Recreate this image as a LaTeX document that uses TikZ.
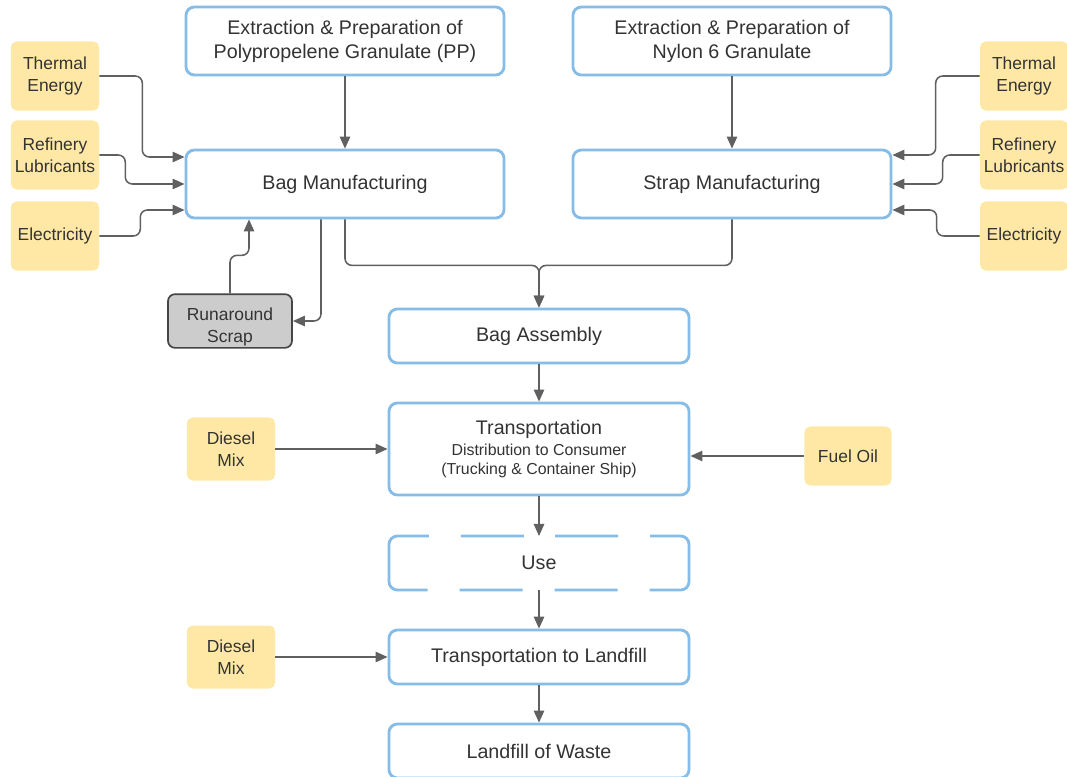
\documentclass[tikz,border=0pt]{standalone}
\usepackage{fontspec}
\setmainfont{Liberation Sans}
\usetikzlibrary{arrows.meta,calc}
\definecolor{boxblue}{HTML}{86BCE8}
\definecolor{inputyellow}{HTML}{FFE8A6}
\definecolor{scrapgrey}{HTML}{CCCCCC}
\definecolor{scrapedge}{HTML}{454545}
\definecolor{flowgrey}{HTML}{606060}
\definecolor{inkdark}{HTML}{333333}
\newcommand\fsmain{\fontsize{14}{17}\selectfont}
\newcommand\fsside{\fontsize{12.4}{15.6}\selectfont}
\newcommand\fssub{\fontsize{11.3}{13.5}\selectfont}
\tikzset{
  procbox/.style={draw=boxblue, fill=white, rounded corners=6pt, line width=2pt, align=center, font=\fsmain, text=inkdark, minimum width=7.95cm, minimum height=1.7cm, inner sep=1pt},
  stagebox/.style={procbox, minimum width=7.5cm, minimum height=1.35cm},
  inputbox/.style={fill=inputyellow, rounded corners=4pt, align=center, font=\fsside, text=inkdark, minimum width=2.2cm, minimum height=1.725cm, inner sep=1pt},
  scrapbox/.style={draw=scrapedge, fill=scrapgrey, line width=1.2pt, rounded corners=5pt, align=center, font=\fsside, text=inkdark, minimum width=3.1cm, minimum height=1.3cm, inner sep=1pt},
  usedash/.style={draw=boxblue, line width=2pt, rounded corners=6pt,
    dash pattern=on 0mm off 4mm on 15.75mm off 8mm on 31.25mm off 8mm on 15.75mm off 8mm on 15.75mm off 8mm on 31.25mm off 8mm on 15.75mm off 4mm},
  flow/.style={-{Triangle[length=3mm,width=2.6mm]}, line width=1.1pt, flowgrey, rounded corners=5pt},
}
\begin{document}
\begin{tikzpicture}[x=0.025cm, y=-0.025cm]
  \useasboundingbox (0,0) rectangle (1067,777);
  % raw materials
  \node[procbox] (extrpp) at (345,41) {Extraction \& Preparation of\\Polypropelene Granulate (PP)};
  \node[procbox] (extrny) at (732,41) {Extraction \& Preparation of\\Nylon 6 Granulate};
  \node[procbox] (bagman) at (345,184) {Bag Manufacturing};
  \node[procbox] (strapman) at (732,184) {Strap Manufacturing};
  % inputs
  \node[inputbox] (thermL) at (55,76) {Thermal\\Energy};
  \node[inputbox] (lubL) at (55,155) {Refinery\\Lubricants};
  \node[inputbox] (elecL) at (55,236) {Electricity};
  \node[inputbox] (thermR) at (1024,76) {Thermal\\Energy};
  \node[inputbox] (lubR) at (1024,155) {Refinery\\Lubricants};
  \node[inputbox] (elecR) at (1024,236) {Electricity};
  \node[scrapbox] (scrap) at (230,321) {\rule{0pt}{18pt}Runaround\\Scrap};
  % life cycle
  \node[stagebox] (assembly) at (539,336) {Bag Assembly};
  \node[stagebox, minimum height=2.3cm] (transport) at (539,449) {Transportation\\[-1.5pt]\fssub Distribution to Consumer\\[-3.5pt]\fssub (Trucking \& Container Ship)};
  \node[inputbox, minimum height=1.575cm] (dieselA) at (231,449) {Diesel\\Mix};
  \node[inputbox, minimum width=2.175cm, minimum height=1.475cm] (fuel) at (848,456) {Fuel Oil};
  \node[stagebox, draw=none, outer sep=0pt] (use) at (539,563) {Use};
  \node[stagebox] (landtrans) at (539,657) {Transportation to Landfill};
  \node[inputbox, minimum height=1.575cm] (dieselB) at (231,657) {Diesel\\Mix};
  \node[stagebox] (landfill) at (539,751) {Landfill of Waste};
  % dashed outline of use
  \draw[usedash] (use.north) -- (use.north east) -- (use.south east) -- (use.south west) -- (use.north west) -- (use.north);
  % connectors
  \draw[flow] (extrpp) -- (bagman);
  \draw[flow] (extrny) -- (strapman);
  \draw[flow] (thermL.east) -- ++(43,0) |- ($(bagman.west)+(0,-27)$);
  \draw[flow] (lubL.east) -- ++(26,0) |- (bagman.west);
  \draw[flow] (elecL.east) -- ++(41,0) |- ($(bagman.west)+(0,26)$);
  \draw[flow] (thermR.west) -- ++(-44,0) |- ($(strapman.east)+(0,-29)$);
  \draw[flow] (lubR.west) -- ++(-37,0) |- (strapman.east);
  \draw[flow] (elecR.west) -- ++(-43,0) |- ($(strapman.east)+(0,26)$);
  \draw[flow] ($(bagman.south)+(-24,0)$) |- (scrap.east);
  \draw[flow] (scrap.north) -- ++(0,-38) -| ($(bagman.south)+(-96,0)$);
  \draw[flow] (bagman.south) -- ++(0,46) -| (assembly.north);
  \draw[flow] (strapman.south) -- ++(0,46) -| (assembly.north);
  \draw[flow] (assembly) -- (transport);
  \draw[flow] (dieselA) -- (transport);
  \draw[flow] (fuel.west) -- (fuel.west -| transport.east);
  \draw[flow] (transport) -- (use.north);
  \draw[flow] (use.south) -- (landtrans);
  \draw[flow] (dieselB) -- (landtrans);
  \draw[flow] (landtrans) -- (landfill);
\end{tikzpicture}
\end{document}
